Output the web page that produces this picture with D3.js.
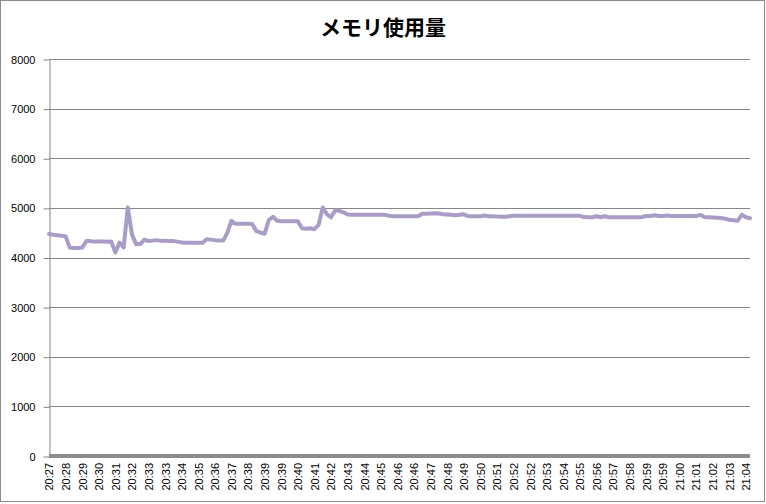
<!DOCTYPE html>
<html>
<head>
<meta charset="utf-8">
<script src="https://cdn.jsdelivr.net/npm/d3@7"></script>
<style>
body{margin:0;background:#fff}
</style>
</head>
<body>
<svg id="chart" width="766" height="504"></svg>
<script>
const title = 'メモリ使用量'

// category labels, one shown every 4 samples
const timeLabels = [
	'20:27','20:28','20:29','20:30','20:31','20:32','20:33','20:33','20:34','20:35',
	'20:36','20:37','20:38','20:39','20:39','20:40','20:41','20:42','20:43','20:44',
	'20:45','20:46','20:46','20:47','20:48','20:49','20:50','20:51','20:52','20:52',
	'20:53','20:54','20:55','20:56','20:57','20:58','20:59','20:59','21:00','21:01',
	'21:02','21:03','21:04'
]
const labelEvery = 4

const yTicks = [0,1000,2000,3000,4000,5000,6000,7000,8000]

// memory usage samples
const memUsage = [
	4475,4460,4450,4440,4430,4200,4190,4190,4200,4330,
	4330,4320,4320,4320,4315,4320,4100,4300,4200,5010,
	4460,4270,4270,4360,4330,4340,4350,4335,4340,4330,
	4330,4320,4300,4295,4295,4295,4295,4295,4370,4360,
	4350,4345,4340,4500,4740,4680,4680,4680,4680,4675,
	4530,4500,4480,4760,4820,4740,4730,4730,4730,4730,
	4730,4590,4580,4590,4570,4660,5010,4870,4810,4950,
	4940,4910,4865,4860,4860,4860,4860,4860,4860,4860,
	4860,4860,4840,4830,4830,4830,4830,4830,4830,4830,
	4880,4880,4885,4890,4885,4870,4865,4860,4850,4860,
	4870,4835,4830,4830,4830,4845,4830,4830,4825,4820,
	4820,4830,4840,4840,4840,4840,4840,4840,4840,4840,
	4840,4840,4840,4840,4840,4840,4840,4840,4840,4815,
	4810,4810,4830,4810,4830,4810,4810,4810,4810,4810,
	4810,4810,4810,4815,4835,4835,4850,4835,4835,4845,
	4835,4835,4835,4835,4835,4835,4835,4860,4815,4810,
	4805,4800,4795,4780,4760,4750,4740,4860,4810,4790
]

const plotL = 49, plotR = 750, plotT = 59, plotB = 456
const axisFont = '"Liberation Sans", Arial, sans-serif'

const svg = d3.select('#chart')

// outer frame
svg.append('rect')
	.attr('x',0.5).attr('y',0.5)
	.attr('width',764).attr('height',501)
	.attr('fill','#fff')
	.attr('stroke','#8a8a8a')

const x = d3.scaleLinear()
	.domain([0, memUsage.length - 1])
	.range([plotL, plotR])

const y = d3.scaleLinear()
	.domain([0, 8000])
	.range([plotB, plotT])

// gridlines
svg.append('g')
	.selectAll('line')
	.data(yTicks)
	.enter()
	.append('line')
	.attr('x1',plotL).attr('x2',plotR)
	.attr('y1',d => Math.round(y(d)) + 0.5)
	.attr('y2',d => Math.round(y(d)) + 0.5)
	.attr('stroke','#868686')

// y axis
const yAxis = svg.append('g')
	.attr('transform',`translate(${plotL + 0.5},0.5)`)
	.call(d3.axisLeft(y)
		.tickValues(yTicks)
		.tickFormat(d3.format('d'))
		.tickSize(6)
		.tickSizeOuter(0)
		.tickPadding(8))
yAxis.select('.domain').attr('stroke','#868686')
yAxis.selectAll('.tick line').attr('stroke','#868686')
yAxis.selectAll('text')
	.attr('font-family',axisFont)
	.attr('font-size',11)
	.attr('fill','#000')

// x axis
const xAxis = svg.append('g')
	.attr('transform',`translate(0,${plotB})`)
	.call(d3.axisBottom(x)
		.tickValues(d3.range(0, memUsage.length, labelEvery))
		.tickFormat(i => timeLabels[i / labelEvery])
		.tickSize(0))
xAxis.select('.domain').remove()
xAxis.selectAll('text')
	.attr('font-family',axisFont)
	.attr('font-size',11)
	.attr('fill','#000')
	.attr('text-anchor','end')
	.attr('transform','rotate(-90)')
	.attr('x',-7)
	.attr('y',0)
	.attr('dy','0.35em')

svg.append('line')
	.attr('x1',plotL).attr('x2',plotR)
	.attr('y1',plotB).attr('y2',plotB)
	.attr('stroke','#8c8c8c')
	.attr('stroke-width',4)

// the series
const line = d3.line()
	.x((d,i) => x(i))
	.y(d => y(d))

svg.append('path')
	.datum(memUsage)
	.attr('d',line)
	.attr('fill','none')
	.attr('stroke','#a99dc7')
	.attr('stroke-width',4)
	.attr('stroke-linejoin','round')
	.attr('stroke-linecap','round')

// title
svg.append('text')
	.attr('x',383)
	.attr('y',35)
	.attr('text-anchor','middle')
	.attr('font-family','"Noto Sans CJK JP", sans-serif')
	.attr('font-weight','bold')
	.attr('font-size',21)
	.text(title)
</script>
</body>
</html>
